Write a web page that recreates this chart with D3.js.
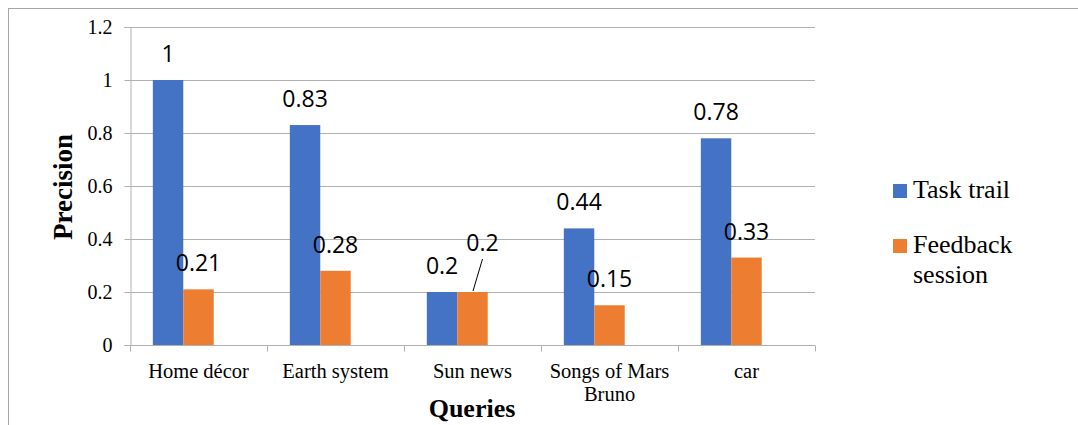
<!DOCTYPE html>
<html>
<head>
<meta charset="utf-8">
<script src="https://cdn.jsdelivr.net/npm/d3@7"></script>
<style>
  html, body { margin: 0; padding: 0; background: #fff; }
  svg { display: block; }
</style>
</head>
<body>
<svg id="chart" width="1078" height="425"></svg>
<script>
// Query names (a "\n" splits a label onto two lines)
const categories = ["Home décor", "Earth system", "Sun news", "Songs of Mars\nBruno", "car"];
const seriesNames = ["Task trail", "Feedback session"];
const taskTrail = [1, 0.83, 0.2, 0.44, 0.78];
const feedbackSession = [0.21, 0.28, 0.2, 0.15, 0.33];
const yTicks = [0, 0.2, 0.4, 0.6, 0.8, 1, 1.2];
const colors = ["#4472C4", "#ED7D31"];

const seriesValues = [taskTrail, feedbackSession];

const svg = d3.select("#chart");
const plot = { left: 130, right: 815, top: 27, bottom: 345 };
const serif = "'Liberation Serif', 'Times New Roman', serif";

// outer frame
svg.append("rect")
  .attr("x", 8.5).attr("y", 8.5)
  .attr("width", 1100).attr("height", 500)
  .attr("fill", "none").attr("stroke", "#a6a6a6").attr("stroke-width", 1);

const y = d3.scaleLinear().domain([0, 1.2]).range([plot.bottom, plot.top]);
const x0 = d3.scaleBand().domain(categories).range([plot.left, plot.right]).padding(0);
// each group holds bars with a 150% gap width
const barW = x0.bandwidth() / 4.5;
const x1 = d3.scaleBand().domain(seriesNames)
  .range([barW * 0.75, barW * 0.75 + barW * 2]).padding(0);

// horizontal gridlines
svg.append("g").selectAll("line")
  .data(yTicks.filter(t => t > 0))
  .join("line")
  .attr("x1", plot.left).attr("x2", plot.right)
  .attr("y1", d => Math.round(y(d)) + 0.5).attr("y2", d => Math.round(y(d)) + 0.5)
  .attr("stroke", "#b0b0b0").attr("stroke-width", 1);

// y axis
const yAxis = svg.append("g")
  .attr("transform", `translate(${plot.left + 0.5},0)`)
  .call(d3.axisLeft(y).tickValues(yTicks).tickSize(6).tickPadding(12).tickFormat(d3.format("")));
yAxis.select(".domain").attr("stroke", "#b0b0b0");
yAxis.selectAll(".tick line").attr("stroke", "#b0b0b0");
yAxis.selectAll(".tick text")
  .attr("font-family", serif)
  .attr("font-size", 20).attr("fill", "#000");

// bars
const groups = svg.append("g").selectAll("g")
  .data(categories)
  .join("g")
  .attr("transform", d => `translate(${x0(d)},0)`);

groups.selectAll("rect")
  .data((c, i) => seriesNames.map((s, k) => ({ s, k, v: seriesValues[k][i] })))
  .join("rect")
  .attr("x", d => x1(d.s))
  .attr("width", x1.bandwidth())
  .attr("y", d => y(d.v))
  .attr("height", d => y(0) - y(d.v))
  .attr("fill", d => colors[d.k]);

// x axis baseline and category ticks
const xAxis = svg.append("g")
  .attr("transform", `translate(0,${plot.bottom + 0.5})`);
xAxis.append("line")
  .attr("x1", plot.left).attr("x2", plot.right)
  .attr("stroke", "#b0b0b0");
xAxis.selectAll("line.tick")
  .data(categories.map(c => x0(c)).concat([plot.right]))
  .join("line").attr("class", "tick")
  .attr("x1", d => Math.round(d) + 0.5).attr("x2", d => Math.round(d) + 0.5)
  .attr("y1", 0).attr("y2", 6)
  .attr("stroke", "#b0b0b0");

xAxis.selectAll("text.cat")
  .data(categories)
  .join("text").attr("class", "cat")
  .attr("x", d => x0(d) + x0.bandwidth() / 2)
  .attr("y", 32)
  .attr("text-anchor", "middle")
  .attr("font-family", serif)
  .attr("font-size", 20.5)
  .attr("fill", "#000")
  .each(function (d) {
    const lines = d.split("\n");
    d3.select(this).selectAll("tspan")
      .data(lines).join("tspan")
      .attr("x", x0(d) + x0.bandwidth() / 2)
      .attr("dy", (l, i) => i === 0 ? 0 : 23)
      .text(l => l);
  });

// data labels; a label that would sit on its neighbour is lifted with a leader line
const labelFont = "'Open Sans', 'Liberation Sans', sans-serif";
groups.each(function (c, i) {
  const g = d3.select(this);
  seriesNames.forEach((s, k) => {
    const v = seriesValues[k][i];
    const cx = x1(s) + x1.bandwidth() / 2;
    let lx = cx, ly = y(v) - 18;
    const clash = k === 1 && seriesValues[0][i] === v;
    if (clash) {
      lx = cx + 10; ly = y(v) - 41;
      g.append("line")
        .attr("x1", cx + 0.5).attr("y1", y(v) - 1)
        .attr("x2", lx).attr("y2", ly + 8)
        .attr("stroke", "#000").attr("stroke-width", 1);
    }
    g.append("text")
      .attr("x", lx).attr("y", ly)
      .attr("text-anchor", "middle")
      .attr("font-family", labelFont)
      .attr("font-size", 23)
      .attr("fill", "#000")
      .text(v);
  });
});

// axis titles
svg.append("text")
  .attr("transform", `translate(72,${(plot.top + plot.bottom) / 2 + 1}) rotate(-90)`)
  .attr("text-anchor", "middle")
  .attr("font-family", serif)
  .attr("font-weight", "bold").attr("font-size", 27)
  .attr("fill", "#000")
  .text("Precision");

svg.append("text")
  .attr("x", 472).attr("y", 417)
  .attr("text-anchor", "middle")
  .attr("font-family", serif)
  .attr("font-weight", "bold").attr("font-size", 26)
  .attr("fill", "#000")
  .text("Queries");

// legend
const legend = svg.append("g").attr("transform", "translate(893,0)");
const legendRows = [{ lines: ["Task trail"], top: 184 }, { lines: ["Feedback", "session"], top: 239 }];
legendRows.forEach((row, k) => {
  legend.append("rect")
    .attr("x", 0).attr("y", row.top)
    .attr("width", 14).attr("height", 14)
    .attr("fill", colors[k]);
  const t = legend.append("text")
    .attr("x", 20).attr("y", row.top + 14)
    .attr("font-family", serif)
    .attr("font-size", 26).attr("fill", "#000");
  t.selectAll("tspan").data(row.lines).join("tspan")
    .attr("x", 20).attr("dy", (l, i) => i === 0 ? 0 : 30)
    .text(l => l);
});
</script>
</body>
</html>
